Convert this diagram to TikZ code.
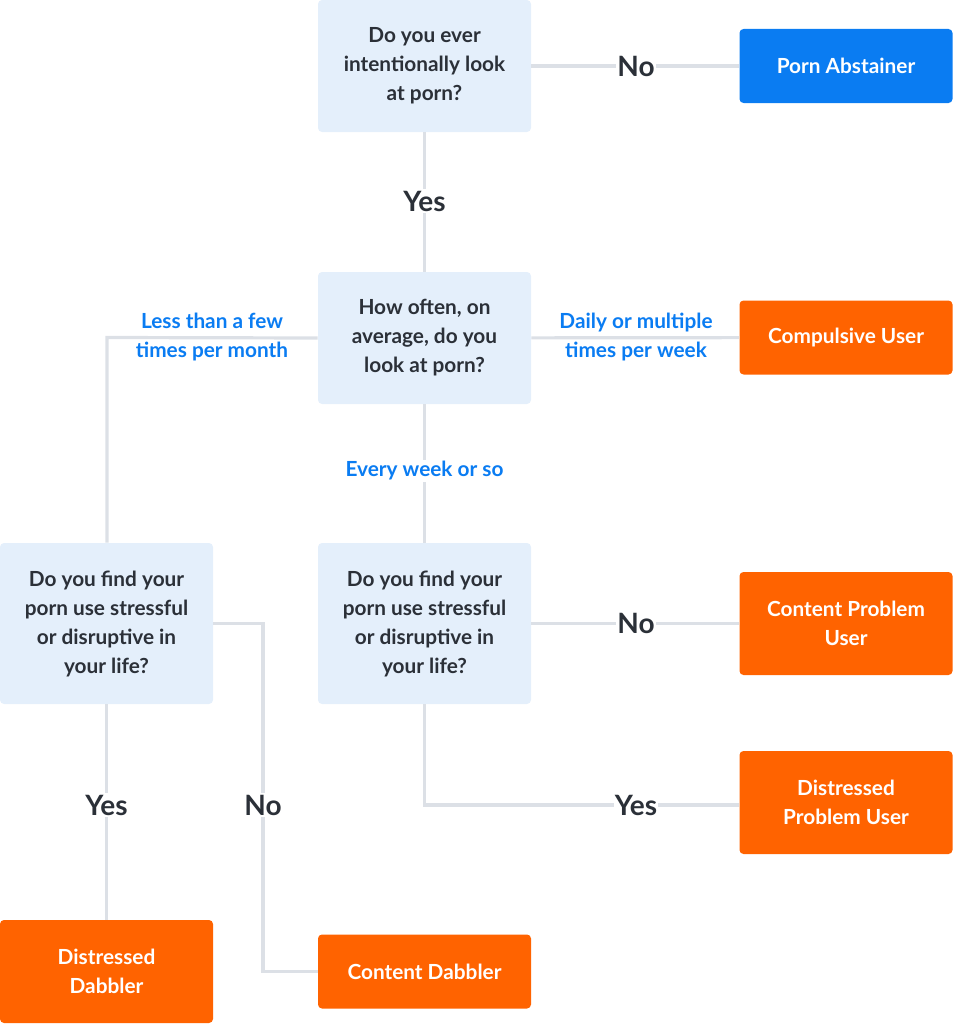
\documentclass[tikz,border=0pt]{standalone}
\usepackage{fontspec}
\setmainfont{Lato}
\usepackage{xcolor}
\usetikzlibrary{positioning}
\definecolor{qfill}{HTML}{E4EFFB}
\definecolor{ink}{HTML}{2B3038}
\definecolor{wire}{HTML}{DCE0E6}
\definecolor{abstainblue}{HTML}{0A7CF2}
\definecolor{resultorange}{HTML}{FF6300}
\tikzset{
  link/.style={draw=wire, line width=2.4pt},
  box/.style={rounded corners=3pt, align=center, inner sep=0pt,
    minimum width=159.75pt, font=\bfseries\fontsize{15.6}{21.75}\selectfont},
  qbox/.style={box, fill=qfill, text=ink},
  resultbox/.style={box, fill=resultorange, text=white},
  abstainbox/.style={box, fill=abstainblue, text=white},
  answer/.style={fill=white, text=ink, inner sep=1pt, font=\bfseries\fontsize{21}{24}\selectfont},
  freq/.style={text=abstainblue, align=center, inner sep=1pt, font=\bfseries\fontsize{15.6}{21.75}\selectfont}
}
\begin{document}
\begin{tikzpicture}[x=0.75pt, y=-0.75pt]
  \useasboundingbox (0,0) rectangle (953,1024);
  % questions
  \node[qbox, minimum height=99pt] (ever) at (424.5,66) {Do you ever\\intentionally look\\at porn?};
  \node[qbox, minimum height=99pt] (often) at (424.5,338) {How often, on\\average, do you\\look at porn?};
  \node[qbox, minimum height=120.75pt] (stressR) at (424.5,623.5) {Do you find your\\porn use stressful\\or disruptive in\\your life?};
  \node[qbox, minimum height=120.75pt] (stressL) at (106.5,623.5) {Do you find your\\porn use stressful\\or disruptive in\\your life?};
  % outcomes
  \node[abstainbox, minimum height=55.5pt] (abstainer) at (846,66) {Porn Abstainer};
  \node[resultbox, minimum height=55.5pt] (compulsive) at (846,337.5) {Compulsive User};
  \node[resultbox, minimum height=77.25pt] (contentPU) at (846,623.5) {Content Problem\\User};
  \node[resultbox, minimum height=77.25pt] (distressPU) at (846,802.5) {Distressed\\Problem User};
  \node[resultbox, minimum height=77.25pt] (distressD) at (106.5,971.5) {Distressed\\Dabbler};
  \node[resultbox, minimum height=55.5pt] (contentD) at (424.5,971.5) {Content Dabbler};
  % turning points
  \coordinate (lessCorner) at (107,337.5);
  \coordinate (yesCorner) at (424.5,805);
  \coordinate (noTop) at (263,623.5);
  \coordinate (noBottom) at (263,971.5);
  % connectors
  \draw[link] (ever) -- (abstainer);
  \draw[link] (ever) -- (often);
  \draw[link] (often) -- (compulsive);
  \draw[link] (often.west) -- (lessCorner) -- (stressL.north -| lessCorner);
  \draw[link] (often) -- (stressR);
  \draw[link] (stressR) -- (contentPU);
  \draw[link] (stressR.south) -- (yesCorner) -- (distressPU.west |- yesCorner);
  \draw[link] (stressL) -- (distressD);
  \draw[link] (stressL.east |- noTop) -- (noTop) -- (noBottom) -- (contentD.west);
  % answers
  \node[answer] (no1) at (636,66) {No};
  \node[answer] (yes1) at (424.5,201) {Yes};
  \node[answer] (no2) at (636,623.5) {No};
  \node[answer] (yes2) at (636,805) {Yes};
  \node[answer] (yes3) at (106.5,805) {Yes};
  \node[answer] (no3) at (263,805) {No};
  \node[freq] (lessLbl) at (212,337.5) {Less than a few\\times per month};
  \node[freq] (dailyLbl) at (636,337.5) {Daily or multiple\\times per week};
  \node[freq, fill=white] (weekLbl) at (424.5,471) {Every week or so};
\end{tikzpicture}
\end{document}
